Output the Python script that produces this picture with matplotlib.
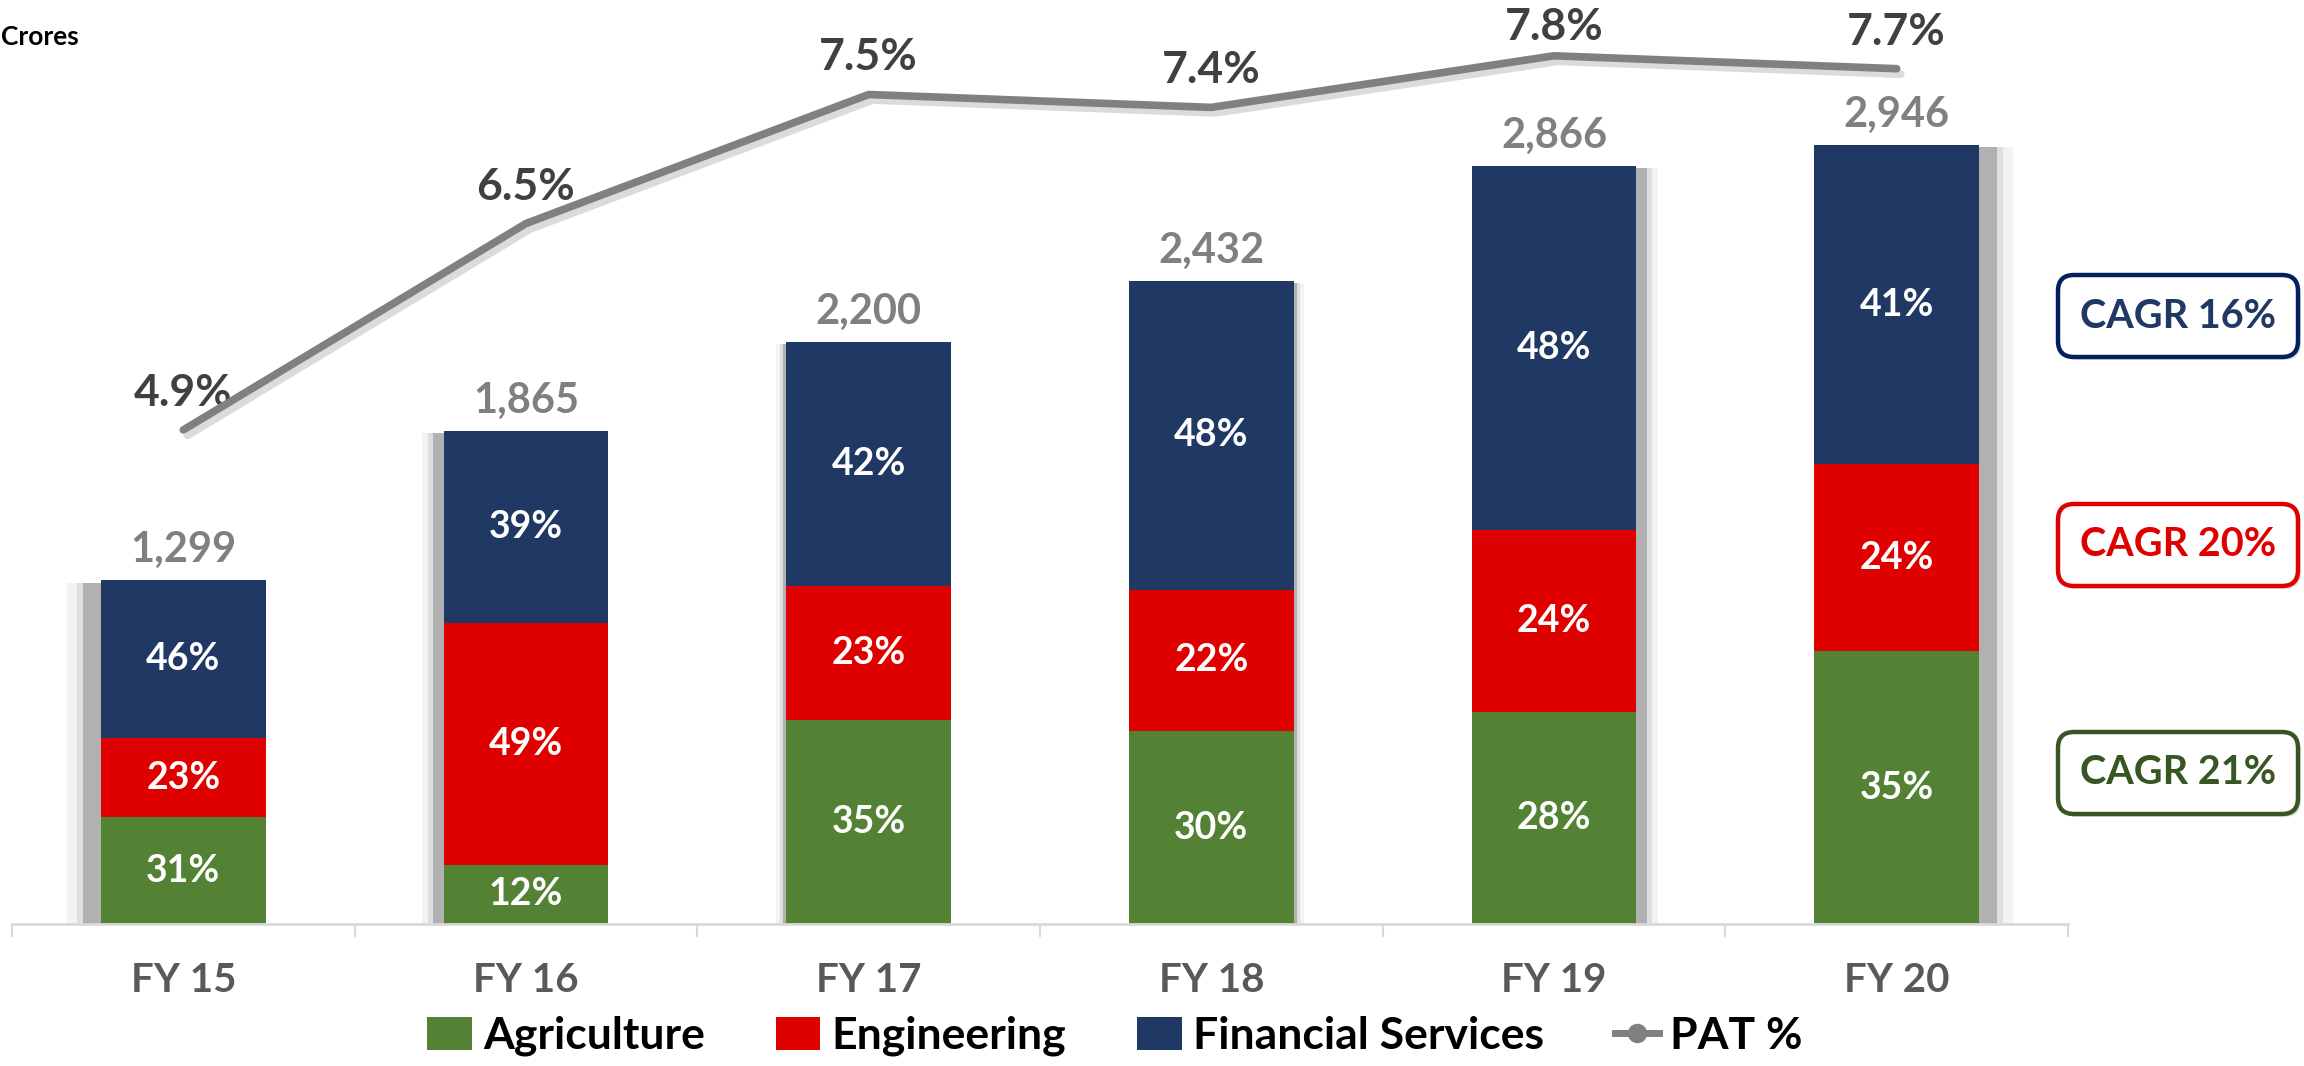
import matplotlib
matplotlib.use('Agg')
import matplotlib.pyplot as plt
import matplotlib.patheffects as pe
from matplotlib.patches import Patch, FancyBboxPatch
from matplotlib.lines import Line2D
from matplotlib.transforms import IdentityTransform
import numpy as np

# ---------------- data ----------------
years = ['FY 15', 'FY 16', 'FY 17', 'FY 18', 'FY 19', 'FY 20']
total_revenue = [1299, 1865, 2200, 2432, 2866, 2946]
agri_share = [31, 12, 35, 30, 28, 35]
eng_share = [23, 49, 23, 22, 24, 24]
fin_share = [46, 39, 42, 48, 48, 41]
pat_pct = [4.9, 6.5, 7.5, 7.4, 7.8, 7.7]
cagr_labels = ['CAGR 16%', 'CAGR 20%', 'CAGR 21%']
series_names = ['Agriculture', 'Engineering', 'Financial Services', 'PAT %']

# ---------------- style ----------------
GREEN = '#548235'
RED = '#df0000'
NAVY = '#203864'
LINE_GRAY = '#808080'
W, H = 2304, 1066

plt.rcParams['font.family'] = ['Lato', 'DejaVu Sans']
fig = plt.figure(figsize=(W / 100, H / 100), dpi=100)

ax = fig.add_axes([12 / W, 142 / H, 2056 / W, 924 / H])
x = np.arange(len(years))
tot = np.array(total_revenue, dtype=float)
agri = tot * np.array(agri_share) / 100
eng = tot * np.array(eng_share) / 100
fin = tot * np.array(fin_share) / 100
bw = 0.48

# bar shadows (perspective-like offset)
for i in range(len(x)):
    dx = (i - 2.5) * 0.021
    for k, a in [(1.6, 0.10), (1.25, 0.20), (1.0, 0.55)]:
        ax.bar(x[i] + dx * k, tot[i] - 8, width=bw + 0.012 * (k - 1) * 4, bottom=0,
               color='#8c8c8c', alpha=a, linewidth=0, zorder=1)

ax.bar(x, agri, width=bw, color=GREEN, zorder=2, linewidth=0)
ax.bar(x, eng, width=bw, bottom=agri, color=RED, zorder=2, linewidth=0)
ax.bar(x, fin, width=bw, bottom=agri + eng, color=NAVY, zorder=2, linewidth=0)

# segment labels
for i in range(len(x)):
    for bottom, h, s in [(0, agri[i], agri_share[i]),
                         (agri[i], eng[i], eng_share[i]),
                         (agri[i] + eng[i], fin[i], fin_share[i])]:
        ax.text(x[i], bottom + h / 2, f'{s}%', ha='center', va='center',
                color='white', fontsize=27, fontweight='bold', zorder=4)
    ax.annotate(f'{int(total_revenue[i]):,}', (x[i], tot[i]), xytext=(0, 18),
                textcoords='offset pixels', ha='center', va='baseline',
                color='#808080', fontsize=30, fontweight='bold', zorder=4)

ax.set_xlim(-0.5, len(x) - 0.5)
ax.set_ylim(0, 924 / 0.2645)
for s in ['top', 'left', 'right']:
    ax.spines[s].set_visible(False)
ax.spines['bottom'].set_color('#d9d9d9')
ax.spines['bottom'].set_linewidth(2)
ax.set_yticks([])
ax.set_xticks(x)
ax.set_xticklabels(years, fontsize=29, fontweight='bold', color='#595959')
ax.tick_params(axis='x', which='major', length=0, pad=27)
ax.set_xticks(np.arange(-0.5, len(x), 1.0), minor=True)
ax.tick_params(axis='x', which='minor', length=9, width=1.5, color='#d9d9d9')

# PAT line on secondary axis
ax2 = ax.twinx()
ax2.set_ylim((1062 - 924) / 129, 1062 / 129)
ax2.plot(x, pat_pct, color=LINE_GRAY, lw=5.5, solid_capstyle='round', zorder=5,
         path_effects=[pe.SimpleLineShadow(offset=(3, -4), shadow_color='#999999', alpha=0.35),
                       pe.Normal()])
top_pat = max(pat_pct)
for i in range(len(x)):
    off = 24 if pat_pct[i] < top_pat else 16
    ax2.annotate(f'{pat_pct[i]:.1f}%', (x[i], pat_pct[i]), xytext=(0, off),
                 textcoords='offset pixels', ha='center', va='baseline',
                 color='#404040', fontsize=32, fontweight='bold')
for s in ax2.spines.values():
    s.set_visible(False)
ax2.set_yticks([])
ax2.set_xlim(-0.5, len(x) - 0.5)

# Crores label
fig.text(1 / W, 1 - 37 / H, 'Crores', ha='left', va='center', fontsize=19,
         fontweight='bold', color='black')

# CAGR boxes
box_specs = [(cagr_labels[0], '#002060', NAVY, 316),
             (cagr_labels[1], RED, RED, 545),
             (cagr_labels[2], '#375623', '#375623', 773)]
for label, edge, tcol, cy in box_specs:
    bx0, bx1 = 2058, 2298
    bh = 82
    y0 = H - cy - bh / 2
    patch = FancyBboxPatch((bx0, y0), bx1 - bx0, bh,
                           boxstyle='round,pad=0,rounding_size=16',
                           transform=IdentityTransform(), facecolor='white',
                           edgecolor=edge, linewidth=3.2,
                           path_effects=[pe.SimplePatchShadow(offset=(2, -2), shadow_rgbFace='#888888', alpha=0.3),
                                         pe.Normal()])
    fig.add_artist(patch)
    fig.text((bx0 + bx1) / 2 / W, (H - cy) / H, label, ha='center', va='center',
             fontsize=28.5, fontweight='bold', color=tcol)

# legend
handles = [Patch(facecolor=GREEN, edgecolor='none'),
           Patch(facecolor=RED, edgecolor='none'),
           Patch(facecolor=NAVY, edgecolor='none'),
           Line2D([], [], color=LINE_GRAY, lw=5, marker='o', markersize=13)]
fig.legend(handles, series_names, loc='center', bbox_to_anchor=(1115 / W, 30 / H),
           ncol=4, frameon=False, prop={'size': 32, 'weight': 'bold'},
           handlelength=1.0, handleheight=0.75, handletextpad=0.25,
           columnspacing=1.6)

fig.savefig('out.png', dpi=100)
